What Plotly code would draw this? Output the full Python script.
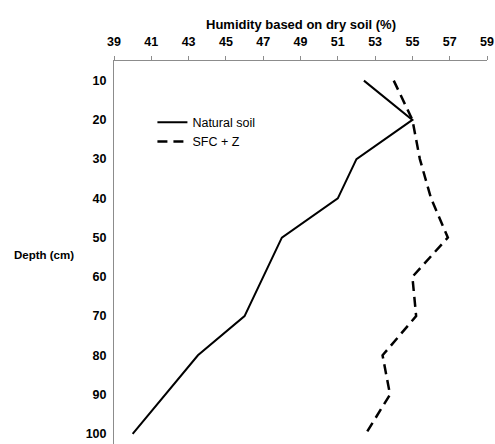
import plotly.graph_objects as go

depth = [10, 20, 30, 40, 50, 60, 70, 80, 90, 100]
natural_soil = [52.4, 55.0, 52.0, 51.0, 48.0, 47.0, 46.0, 43.5, 41.75, 40.0]
sfc_z = [54.0, 55.0, 55.4, 56.0, 56.9, 55.0, 55.2, 53.4, 53.8, 52.5]
x_ticks = [39, 41, 43, 45, 47, 49, 51, 53, 55, 57, 59]
y_ticks = [10, 20, 30, 40, 50, 60, 70, 80, 90, 100]

FONT = "Liberation Sans, Arial, sans-serif"

fig = go.Figure()
fig.add_trace(go.Scatter(x=natural_soil, y=depth, mode="lines", name="Natural soil",
                         line=dict(color="black", width=2)))
fig.add_trace(go.Scatter(x=sfc_z, y=depth, mode="lines", name="SFC + Z",
                         line=dict(color="black", width=2.5, dash="10px,6px")))

fig.update_layout(
    width=495, height=444,
    margin=dict(l=114, r=8, t=61, b=0),
    paper_bgcolor="white", plot_bgcolor="white",
    font=dict(family=FONT, color="black"),
    legend=dict(x=0.103, y=0.878, xanchor="left", yanchor="top",
                font=dict(size=12.5, family=FONT, color="black"),
                bgcolor="rgba(0,0,0,0)", tracegroupgap=0),
    xaxis=dict(side="top", range=[39, 59], tickvals=x_ticks,
               ticktext=[f"<b>{v}</b>" for v in x_ticks],
               showline=True, linecolor="#8c8c8c", linewidth=1,
               ticks="outside", ticklen=4, tickcolor="#8c8c8c",
               showgrid=False, zeroline=False,
               tickfont=dict(size=12.5, family=FONT, color="black"),
               ticklabelstandoff=5),
    yaxis=dict(range=[102.6, 5], tickvals=y_ticks,
               ticktext=[f"<b>{v}</b>" for v in y_ticks],
               showline=True, linecolor="#8c8c8c", linewidth=1,
               ticks="", showgrid=False, zeroline=False,
               tickfont=dict(size=12.5, family=FONT, color="black"),
               ticklabelstandoff=4),
    annotations=[
        dict(text="<b>Humidity based on dry soil (%)</b>", xref="paper", yref="paper",
             x=0.5, y=1, yshift=37, xanchor="center", yanchor="middle", showarrow=False,
             font=dict(size=13, family=FONT, color="black")),
        dict(text="<b>Depth (cm)</b>", xref="paper", yref="paper",
             x=0, xshift=-102, y=0.494, xanchor="left", yanchor="middle", showarrow=False,
             font=dict(size=11.5, family=FONT, color="black")),
    ],
)

fig.write_html("out.html")
